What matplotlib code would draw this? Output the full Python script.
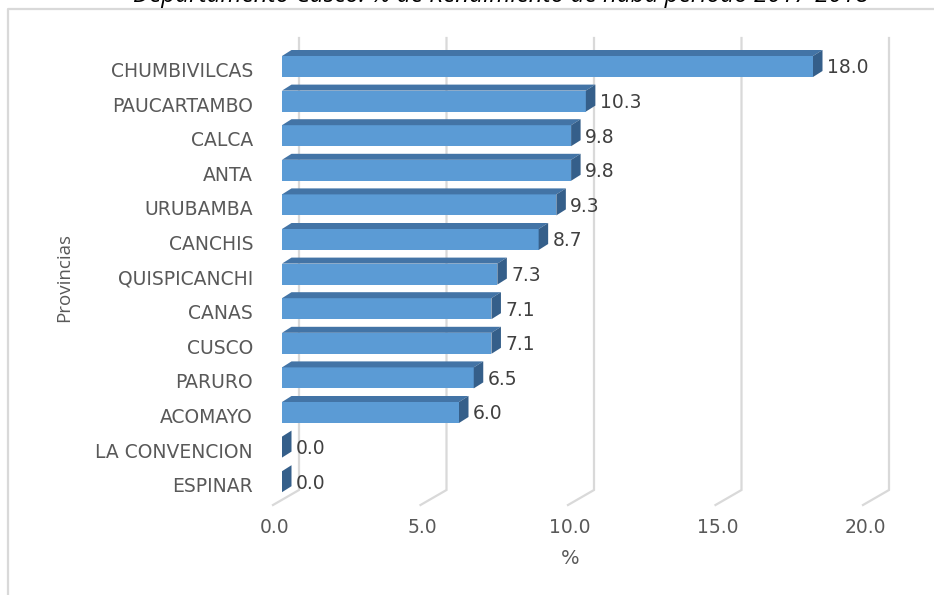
import matplotlib
matplotlib.use("Agg")
import matplotlib.pyplot as plt
from matplotlib.lines import Line2D
from matplotlib.patches import Polygon
import matplotlib.transforms as mtransforms

provincias = ["CHUMBIVILCAS", "PAUCARTAMBO", "CALCA", "ANTA", "URUBAMBA", "CANCHIS",
              "QUISPICANCHI", "CANAS", "CUSCO", "PARURO", "ACOMAYO", "LA CONVENCION", "ESPINAR"]
rendimiento = [18.0, 10.3, 9.8, 9.8, 9.3, 8.7, 7.3, 7.1, 7.1, 6.5, 6.0, 0.0, 0.0]
xticks = [0, 5, 10, 15, 20]
xtick_labels = ["0.0", "5.0", "10.0", "15.0", "20.0"]
title_text = "Departamento Cusco: % de Rendimiento de haba periodo 2017-2018"
xlabel_text = "%"
ylabel_text = "Provincias"

W, H, DPI = 934, 595, 100
fig = plt.figure(figsize=(W / DPI, H / DPI), dpi=DPI)
fig.patch.set_facecolor("white")

FONT = "DejaVu Sans"
TXT = "#595959"
GRID = "#d9d9d9"
FRONT = "#5b9bd5"
TOP = "#4374a6"
SIDE = "#355f8a"

# plot region (front plane of the bars), pixels
left_px, right_px = 282, 872
top_px, bottom_px = 38, 505
first_px, step_px = 66.5, 34.6
ax = fig.add_axes([left_px / W, 1 - bottom_px / H,
                   (right_px - left_px) / W, (bottom_px - top_px) / H])
ax.set_xlim(0, 20)
y_floor = (bottom_px - first_px) / step_px
y_top = (top_px - first_px) / step_px
ax.set_ylim(y_floor, y_top)
ax.set_axis_off()

ppx = (right_px - left_px) / 20.0
ppy = step_px


def dx(p):
    return p / ppx


def dy(p):
    return p / ppy


# back wall gridlines + floor diagonals
wall_dx, floor_dx = dx(17), dx(-9)
wall_bot = (490 - first_px) / step_px
for t in xticks:
    ax.plot([t + wall_dx, t + wall_dx, t + floor_dx], [y_top, wall_bot, y_floor],
            color=GRID, lw=1.6, zorder=1, clip_on=False, solid_joinstyle="miter")

# bars
bar_h = 21 / step_px
bdx, bdy = dx(9.5), dy(6)
ypos = list(range(len(provincias)))
ax.barh(ypos, rendimiento, height=bar_h, color=FRONT, linewidth=0, zorder=3)
for y, v in zip(ypos, rendimiento):
    t_ = y - bar_h / 2
    b_ = y + bar_h / 2
    ax.add_patch(Polygon([(0, t_), (v, t_), (v + bdx, t_ - bdy), (bdx, t_ - bdy)],
                         closed=True, fc=TOP, lw=0, zorder=3, clip_on=False))
    ax.add_patch(Polygon([(v, t_), (v, b_), (v + bdx, b_ - bdy), (v + bdx, t_ - bdy)],
                         closed=True, fc=SIDE, lw=0, zorder=3, clip_on=False))

# value labels
val_tr = mtransforms.offset_copy(ax.transData, fig=fig, x=14, y=-1.5, units="dots")
for y, v in zip(ypos, rendimiento):
    ax.text(v, y, f"{v:.1f}", transform=val_tr, ha="left", va="center",
            fontsize=13.5, color="#404040", family=FONT, clip_on=False)

# category labels
cat_tr = mtransforms.offset_copy(ax.transData, fig=fig, x=-29, y=-5, units="dots")
for y, name in zip(ypos, provincias):
    ax.text(0, y, name, transform=cat_tr, ha="right", va="center",
            fontsize=13.5, color=TXT, family=FONT, clip_on=False)

# x tick labels on floor front edge
tick_tr = mtransforms.offset_copy(ax.transData, fig=fig, x=2, y=-23, units="dots")
for t, lab in zip(xticks, xtick_labels):
    ax.text(t + floor_dx, y_floor, lab, transform=tick_tr, ha="center", va="center",
            fontsize=13.5, color=TXT, family=FONT, clip_on=False)

fig.text(570 / W, 1 - 558 / H, xlabel_text, ha="center", va="center",
         fontsize=14, color=TXT, family=FONT)
fig.text(64 / W, 1 - 277 / H, ylabel_text, ha="center", va="center", rotation=90,
         fontsize=13.5, color=TXT, family="Open Sans")

# chart frame
fig.add_artist(Line2D([8 / W, 8 / W, 1.05], [-0.05, 1 - 8.5 / H, 1 - 8.5 / H],
                      color=GRID, lw=1.6, transform=fig.transFigure))

# title (cut off at the top in the reference)
fig.text(501 / W, 1 - 2 / H, title_text, ha="center", va="baseline", style="italic",
         fontsize=17.5, color="black", family="Open Sans")

fig.savefig("out.png", dpi=DPI)
